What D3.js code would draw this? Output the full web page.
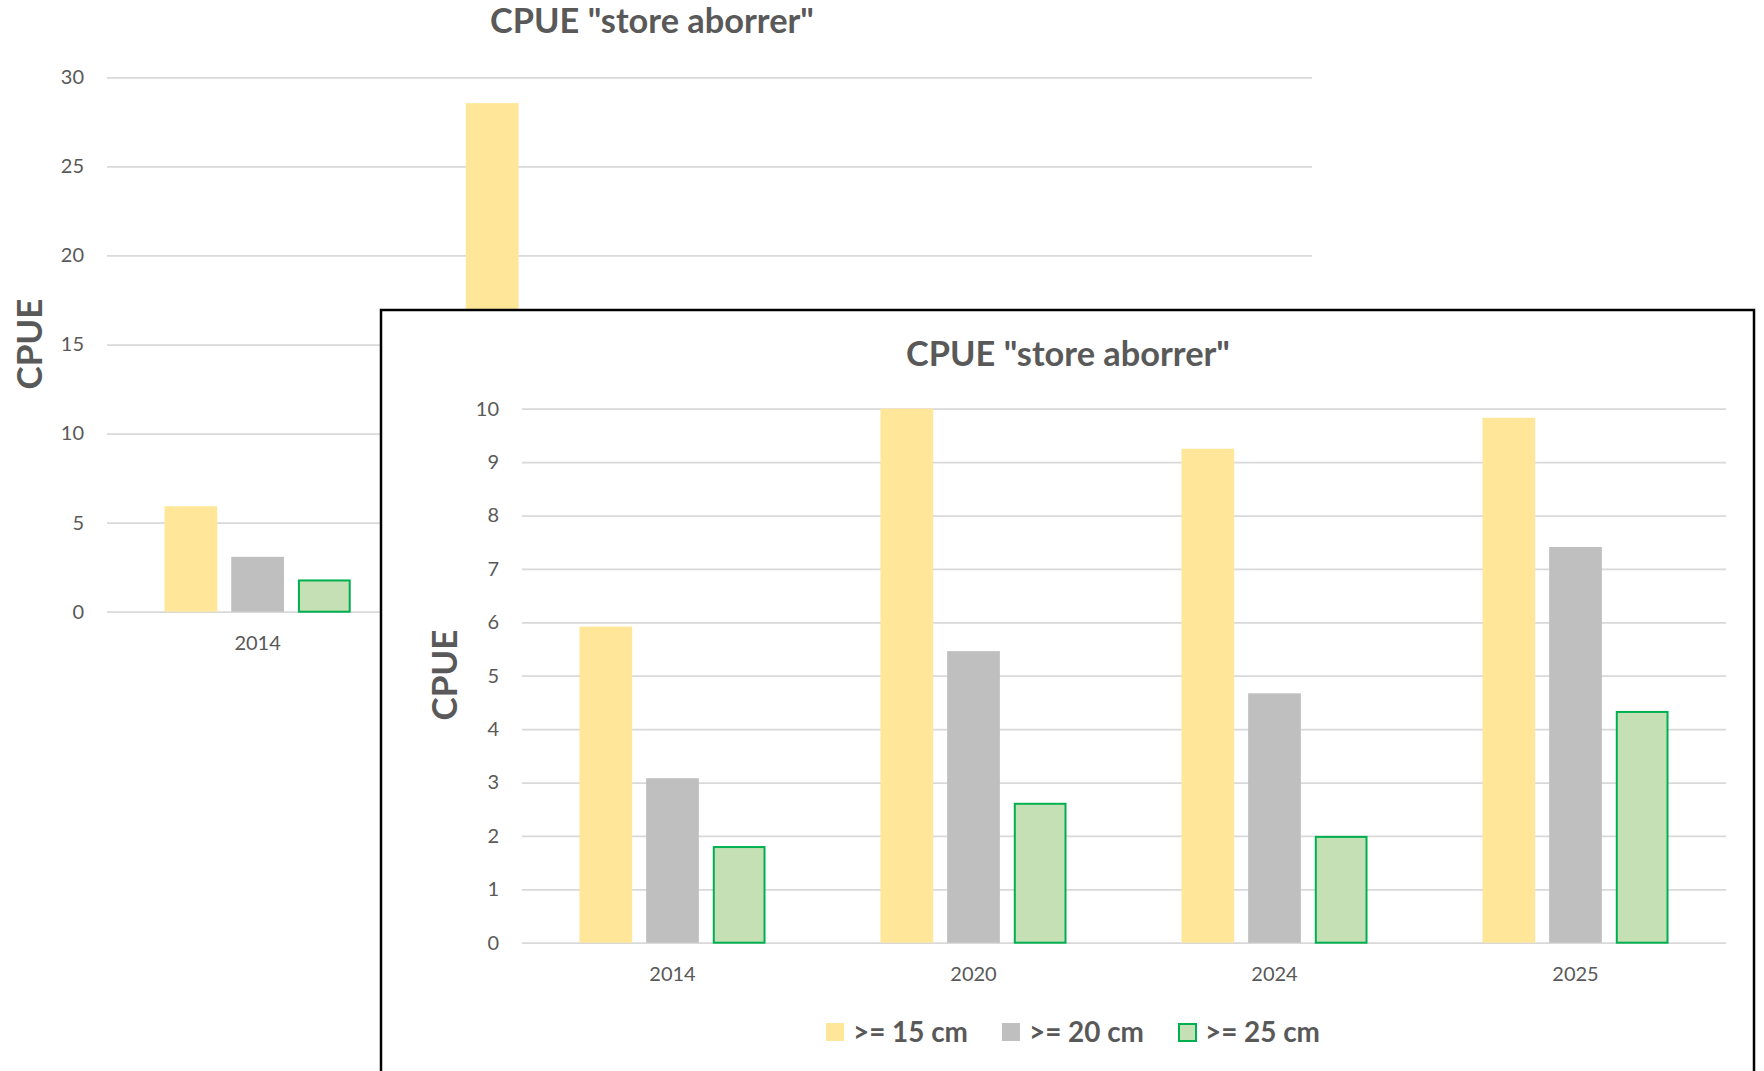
<!DOCTYPE html>
<html>
<head>
<meta charset="utf-8">
<script src="https://cdn.jsdelivr.net/npm/d3@7"></script>
<style>
  body { margin: 0; background: #fff; }
  text { font-family: Lato, "Open Sans", sans-serif; fill: #595959; }
</style>
</head>
<body>
<script>

let width = 1764;
let height = 1071;

// data
let years = ["2014", "2020", "2024", "2025"];
let seriesNames = [">= 15 cm", ">= 20 cm", ">= 25 cm"];
let cpue15 = [5.92, 28.55, 9.25, 9.83];
let cpue20 = [3.08, 5.46, 4.67, 7.41];
let cpue25 = [1.81, 2.62, 2.00, 4.34];
let bgTicks = [0, 5, 10, 15, 20, 25, 30];
let insetTicks = [0, 1, 2, 3, 4, 5, 6, 7, 8, 9, 10];

let fills = ["#FFE699", "#BFBFBF", "#C5E0B4"];
let strokes = ["none", "none", "#00B050"];

let rows = years.map((y, i) => ({ year: y, values: [cpue15[i], cpue20[i], cpue25[i]] }));

let svg = d3.select("body")
	.append("svg")
		.attr("width", width)
		.attr("height", height);

svg.append("rect")
	.attr("width", width)
	.attr("height", height)
	.attr("fill", "#fff");

// scale font size so the text gets a given width
function fit(text, w) {
	let fs = parseFloat(text.style("font-size"));
	let len = text.node().getComputedTextLength();
	text.style("font-size", (fs * w / len) + "px");
}

function drawChart(g, o) {
	let xScale = d3.scaleBand()
		.domain(years)
		.range([o.left, o.right])
		.paddingInner(0.382)
		.paddingOuter(0.191);

	let xSeries = d3.scaleBand()
		.domain(d3.range(seriesNames.length))
		.range([0, xScale.bandwidth()])
		.paddingInner(0.209);

	let yScale = d3.scaleLinear()
		.domain([0, o.max])
		.range([o.bottom, o.top])
		.clamp(true);

	// gridlines + tick labels
	let yAxis = d3.axisLeft(yScale)
		.tickValues(o.ticks)
		.tickSize(-(o.right - o.left))
		.tickPadding(23);

	let ya = g.append("g")
		.attr("transform", "translate(" + o.left + ",0)")
		.call(yAxis);
	ya.select(".domain").remove();
	ya.selectAll("line").attr("stroke", "#D9D9D9").attr("stroke-width", 1.75);
	ya.selectAll("text")
		.attr("fill", "#595959")
		.style("font-family", "Lato")
		.style("font-size", "20px");

	// bars
	let groups = g.selectAll(".grp")
		.data(rows)
		.enter().append("g")
		.attr("class", "grp")
		.attr("transform", d => "translate(" + xScale(d.year) + ",0)");

	groups.selectAll("rect")
		.data(d => d.values.map((v, i) => ({ i: i, v: v })))
		.enter().append("rect")
		.attr("x", d => xSeries(d.i) + (d.i == 2 ? 1 : 0))
		.attr("width", d => xSeries.bandwidth() - (d.i == 2 ? 2 : 0))
		.attr("y", d => yScale(d.v) + (d.i == 2 ? 1 : 0))
		.attr("height", d => yScale(0) - yScale(d.v) - (d.i == 2 ? 1 : 0))
		.attr("fill", d => fills[d.i])
		.attr("stroke", d => strokes[d.i])
		.attr("stroke-width", 2);

	// category labels
	let xAxis = d3.axisBottom(xScale)
		.tickSize(0)
		.tickPadding(24);

	let xa = g.append("g")
		.attr("transform", "translate(0," + o.bottom + ")")
		.call(xAxis);
	xa.select(".domain").remove();
	xa.selectAll("text")
		.attr("fill", "#595959")
		.style("font-family", "Lato")
		.style("font-size", "20px");

	// title
	let title = g.append("text")
		.attr("x", o.titleX)
		.attr("y", o.titleY)
		.attr("text-anchor", "middle")
		.style("font-weight", "bold")
		.style("font-size", "32px")
		.text('CPUE "store aborrer"');
	fit(title, 324);

	// y axis title
	let yt = g.append("text")
		.attr("transform", "translate(" + o.yTitleX + "," + o.yTitleY + ") rotate(-90)")
		.attr("text-anchor", "middle")
		.style("font-weight", "bold")
		.style("font-size", "40px")
		.text("CPUE");
	fit(yt, 91);
}

// background chart (full scale)
drawChart(svg.append("g"), {
	left: 107, right: 1312, top: 77.3, bottom: 611.7,
	max: 30, ticks: bgTicks,
	titleX: 652, titleY: 33,
	yTitleX: 42, yTitleY: 344
});

// inset chart on top, axis cut at 10
let inset = svg.append("g");

inset.append("rect")
	.attr("x", 381)
	.attr("y", 310)
	.attr("width", 1373)
	.attr("height", 800)
	.attr("fill", "#fff")
	.attr("stroke", "#000")
	.attr("stroke-width", 2.5);

drawChart(inset, {
	left: 522, right: 1726, top: 408.7, bottom: 942.7,
	max: 10, ticks: insetTicks,
	titleX: 1068, titleY: 366,
	yTitleX: 457, yTitleY: 675
});

// legend
let legend = inset.selectAll(".legend")
	.data(seriesNames)
	.enter().append("g")
	.attr("class", "legend")
	.attr("transform", (d, i) => "translate(" + (826 + i * 176) + ",1023)");

legend.append("rect")
	.attr("x", (d, i) => i == 2 ? 1 : 0)
	.attr("y", (d, i) => i == 2 ? 1 : 0)
	.attr("width", (d, i) => i == 2 ? 17 : 18)
	.attr("height", (d, i) => i == 2 ? 17 : 18)
	.attr("fill", (d, i) => fills[i])
	.attr("stroke", (d, i) => strokes[i])
	.attr("stroke-width", 2);

let ltext = legend.append("text")
	.attr("x", 27)
	.attr("y", 19)
	.style("font-weight", "bold")
	.style("font-size", "28px")
	.text(d => d);

let lfs = parseFloat(ltext.style("font-size"));
let llen = ltext.nodes()[0].getComputedTextLength();
ltext.style("font-size", (lfs * 115 / llen) + "px");

</script>
</body>
</html>
